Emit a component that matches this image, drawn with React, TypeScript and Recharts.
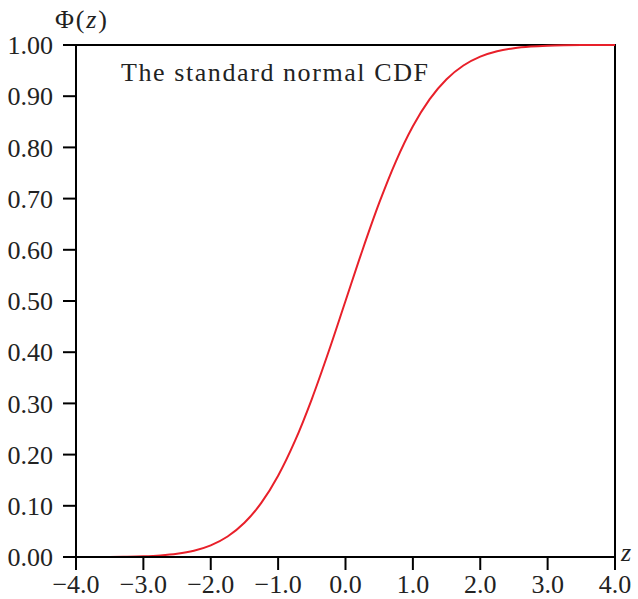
import React from 'react';
import { LineChart, Line, XAxis, YAxis, ReferenceArea } from 'recharts';

const zValues = [-4, -3.75, -3.5, -3.25, -3, -2.75, -2.5, -2.25, -2, -1.75, -1.5, -1.25, -1, -0.75, -0.5, -0.25, 0, 0.25, 0.5, 0.75, 1, 1.25, 1.5, 1.75, 2, 2.25, 2.5, 2.75, 3, 3.25, 3.5, 3.75, 4];
const cdfValues = [0.00003, 0.00009, 0.00023, 0.00058, 0.00135, 0.00298, 0.00621, 0.01222, 0.02275, 0.04006, 0.06681, 0.10565, 0.15866, 0.22663, 0.30854, 0.40129, 0.5, 0.59871, 0.69146, 0.77337, 0.84134, 0.89435, 0.93319, 0.95994, 0.97725, 0.98778, 0.99379, 0.99702, 0.99865, 0.99942, 0.99977, 0.99991, 0.99997];
const xTicks = [-4, -3, -2, -1, 0, 1, 2, 3, 4];
const yTicks = [0, 0.1, 0.2, 0.3, 0.4, 0.5, 0.6, 0.7, 0.8, 0.9, 1.0];
const titleText = 'The standard normal CDF';

const data = zValues.map((z, i) => ({ z, p: cdfValues[i] }));

const FONT = '"Liberation Serif", "DejaVu Serif", serif';
const fmtX = (v: number) => (v < 0 ? '\u2212' + Math.abs(v).toFixed(1) : v.toFixed(1));
const fmtY = (v: number) => v.toFixed(2);

export default function App() {
  return (
    <div style={{ position: 'absolute', left: 0, top: 0, width: 638, height: 599, background: '#fff' }}>
      <LineChart width={638} height={599} data={data} margin={{ top: 45, right: 23, bottom: 0, left: 0 }}>
        <XAxis
          dataKey="z"
          type="number"
          domain={[-4, 4]}
          ticks={xTicks}
          tickFormatter={fmtX}
          height={42}
          tickSize={13}
          tickMargin={5}
          axisLine={{ stroke: '#000', strokeWidth: 2 }}
          tickLine={{ stroke: '#000', strokeWidth: 2 }}
          tick={{ fill: '#222', fontSize: 26, fontFamily: FONT }}
          interval={0}
        />
        <YAxis
          type="number"
          domain={[0, 1]}
          ticks={yTicks}
          tickFormatter={fmtY}
          width={76}
          tickSize={13}
          tickMargin={10}
          axisLine={{ stroke: '#000', strokeWidth: 2 }}
          tickLine={{ stroke: '#000', strokeWidth: 2 }}
          tick={{ fill: '#222', fontSize: 26, fontFamily: FONT }}
          interval={0}
        />
        <ReferenceArea x1={-4} x2={4} y1={0} y2={1} fill="none" stroke="#000" strokeWidth={2} ifOverflow="visible" />
        <Line
          type="monotone"
          dataKey="p"
          stroke="#e8202a"
          strokeWidth={2}
          dot={false}
          isAnimationActive={false}
        />
        <text x={121} y={81} fontSize={26} fontFamily={FONT} fill="#222" textLength={307} lengthAdjust="spacing">{titleText}</text>
        <text x={55} y={28} fontSize={26} fontFamily={FONT} fill="#222" textLength={52} lengthAdjust="spacing">
          {'\u03A6('}
          <tspan fontStyle="italic">z</tspan>
          {')'}
        </text>
        <text x={621} y={561} fontSize={26} fontFamily={FONT} fontStyle="italic" fill="#222">z</text>
      </LineChart>
    </div>
  );
}
